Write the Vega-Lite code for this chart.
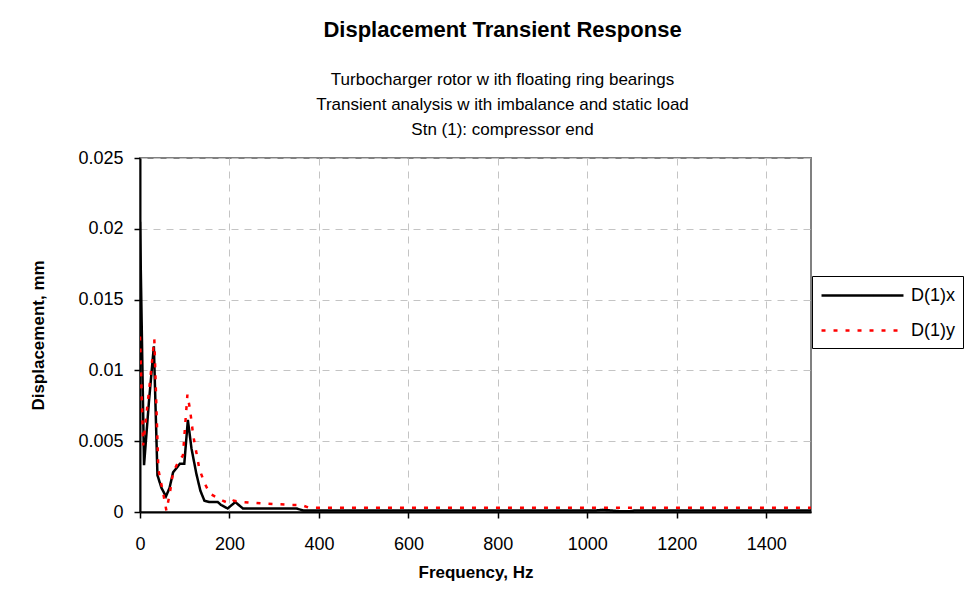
{
  "$schema": "https://vega.github.io/schema/vega-lite/v6.json",
  "width": 671,
  "height": 354,
  "autosize": "none",
  "padding": {"left": 140, "top": 158, "right": 160, "bottom": 88},
  "background": "white",
  "title": {
    "text": "Displacement Transient Response",
    "subtitle": [
      "Turbocharger rotor w ith floating ring bearings",
      "Transient analysis w ith imbalance and static load",
      "Stn (1): compressor end"
    ],
    "anchor": "middle",
    "frame": "group",
    "dx": 27,
    "offset": 10,
    "font": "Liberation Sans",
    "fontSize": 22,
    "fontWeight": "bold",
    "color": "black",
    "subtitleFont": "Liberation Sans",
    "subtitleFontSize": 17,
    "subtitleColor": "black",
    "subtitleLineHeight": 25,
    "subtitlePadding": 30
  },
  "config": {
    "font": "Liberation Sans",
    "view": {"stroke": "#808080", "strokeWidth": 2, "fill": "white"},
    "axis": {
      "labelFont": "Liberation Sans",
      "labelFontSize": 18,
      "labelColor": "black",
      "titleFont": "Liberation Sans",
      "titleFontSize": 17,
      "titleFontWeight": "bold",
      "titleColor": "black",
      "domainColor": "black",
      "domainWidth": 2,
      "tickColor": "black",
      "tickWidth": 1.5,
      "tickSize": 6,
      "gridColor": "#c4c4c4",
      "gridDash": [7, 6],
      "gridWidth": 1
    },
    "legend": {
      "labelFont": "Liberation Sans",
      "labelFontSize": 18,
      "labelColor": "black"
    }
  },
  "data": {
    "values": [
      {"freq": 0, "disp": 0.0205, "series": "D(1)x"},
      {"freq": 9, "disp": 0.0033, "series": "D(1)x"},
      {"freq": 20, "disp": 0.0078, "series": "D(1)x"},
      {"freq": 31, "disp": 0.0117, "series": "D(1)x"},
      {"freq": 39, "disp": 0.0026, "series": "D(1)x"},
      {"freq": 48, "disp": 0.0017, "series": "D(1)x"},
      {"freq": 58, "disp": 0.0011, "series": "D(1)x"},
      {"freq": 66, "disp": 0.0017, "series": "D(1)x"},
      {"freq": 74, "disp": 0.0028, "series": "D(1)x"},
      {"freq": 89, "disp": 0.0034, "series": "D(1)x"},
      {"freq": 99, "disp": 0.0034, "series": "D(1)x"},
      {"freq": 107, "disp": 0.0065, "series": "D(1)x"},
      {"freq": 115, "disp": 0.0045, "series": "D(1)x"},
      {"freq": 126, "disp": 0.0027, "series": "D(1)x"},
      {"freq": 135, "disp": 0.0015, "series": "D(1)x"},
      {"freq": 144, "disp": 0.0008, "series": "D(1)x"},
      {"freq": 156, "disp": 0.0007, "series": "D(1)x"},
      {"freq": 174, "disp": 0.0007, "series": "D(1)x"},
      {"freq": 181, "disp": 0.0005, "series": "D(1)x"},
      {"freq": 196, "disp": 0.00025, "series": "D(1)x"},
      {"freq": 213, "disp": 0.0007, "series": "D(1)x"},
      {"freq": 230, "disp": 0.00025, "series": "D(1)x"},
      {"freq": 350, "disp": 0.00025, "series": "D(1)x"},
      {"freq": 365, "disp": 0.0001, "series": "D(1)x"},
      {"freq": 1015, "disp": 0.0001, "series": "D(1)x"},
      {"freq": 1035, "disp": 0.00015, "series": "D(1)x"},
      {"freq": 1055, "disp": 0.0001, "series": "D(1)x"},
      {"freq": 1075, "disp": 0.00005, "series": "D(1)x"},
      {"freq": 1095, "disp": 0.00005, "series": "D(1)x"},
      {"freq": 1105, "disp": 0.0001, "series": "D(1)x"},
      {"freq": 1500, "disp": 0.0001, "series": "D(1)x"},
      {"freq": 0, "disp": 0.0124, "series": "D(1)y"},
      {"freq": 7, "disp": 0.0047, "series": "D(1)y"},
      {"freq": 13, "disp": 0.0065, "series": "D(1)y"},
      {"freq": 20, "disp": 0.0085, "series": "D(1)y"},
      {"freq": 32, "disp": 0.0122, "series": "D(1)y"},
      {"freq": 41, "disp": 0.003, "series": "D(1)y"},
      {"freq": 52, "disp": 0.0013, "series": "D(1)y"},
      {"freq": 59, "disp": 0.0001, "series": "D(1)y"},
      {"freq": 66, "disp": 0.0012, "series": "D(1)y"},
      {"freq": 74, "disp": 0.0028, "series": "D(1)y"},
      {"freq": 85, "disp": 0.0035, "series": "D(1)y"},
      {"freq": 96, "disp": 0.004, "series": "D(1)y"},
      {"freq": 106, "disp": 0.0083, "series": "D(1)y"},
      {"freq": 112, "disp": 0.0072, "series": "D(1)y"},
      {"freq": 119, "disp": 0.0054, "series": "D(1)y"},
      {"freq": 133, "disp": 0.003, "series": "D(1)y"},
      {"freq": 145, "disp": 0.002, "series": "D(1)y"},
      {"freq": 156, "disp": 0.0013, "series": "D(1)y"},
      {"freq": 185, "disp": 0.0008, "series": "D(1)y"},
      {"freq": 200, "disp": 0.0006, "series": "D(1)y"},
      {"freq": 209, "disp": 0.0008, "series": "D(1)y"},
      {"freq": 230, "disp": 0.0007, "series": "D(1)y"},
      {"freq": 274, "disp": 0.0006, "series": "D(1)y"},
      {"freq": 340, "disp": 0.0005, "series": "D(1)y"},
      {"freq": 360, "disp": 0.0005, "series": "D(1)y"},
      {"freq": 378, "disp": 0.0003, "series": "D(1)y"},
      {"freq": 1500, "disp": 0.0003, "series": "D(1)y"}
    ]
  },
  "mark": {"type": "line", "strokeWidth": 2.5, "clip": true},
  "encoding": {
    "x": {
      "field": "freq",
      "type": "quantitative",
      "title": "Frequency, Hz",
      "scale": {"domain": [0, 1500], "nice": false},
      "axis": {
        "values": [0, 200, 400, 600, 800, 1000, 1200, 1400],
        "format": "d",
        "labelPadding": 17,
        "titlePadding": 11,
        "labelFlush": false
      }
    },
    "y": {
      "field": "disp",
      "type": "quantitative",
      "title": "Displacement, mm",
      "scale": {"domain": [0, 0.025], "nice": false},
      "axis": {
        "values": [0, 0.005, 0.01, 0.015, 0.02, 0.025],
        "format": "~g",
        "labelPadding": 11,
        "titlePadding": 30,
        "labelFlush": false
      }
    },
    "color": {
      "field": "series",
      "type": "nominal",
      "scale": {"domain": ["D(1)x", "D(1)y"], "range": ["black", "#ff0000"]},
      "legend": {
        "title": null,
        "orient": "none",
        "legendX": 672,
        "legendY": 118,
        "symbolType": "M-4,0H4",
        "symbolSize": 420,
        "symbolStrokeWidth": 2.5,
        "symbolOffset": 31,
        "labelOffset": 37,
        "padding": 8,
        "rowPadding": 14,
        "strokeColor": "black",
        "fillColor": "white"
      }
    },
    "strokeDash": {
      "field": "series",
      "type": "nominal",
      "scale": {"domain": ["D(1)x", "D(1)y"], "range": [[1, 0], [4, 8]]},
      "legend": null
    }
  }
}
